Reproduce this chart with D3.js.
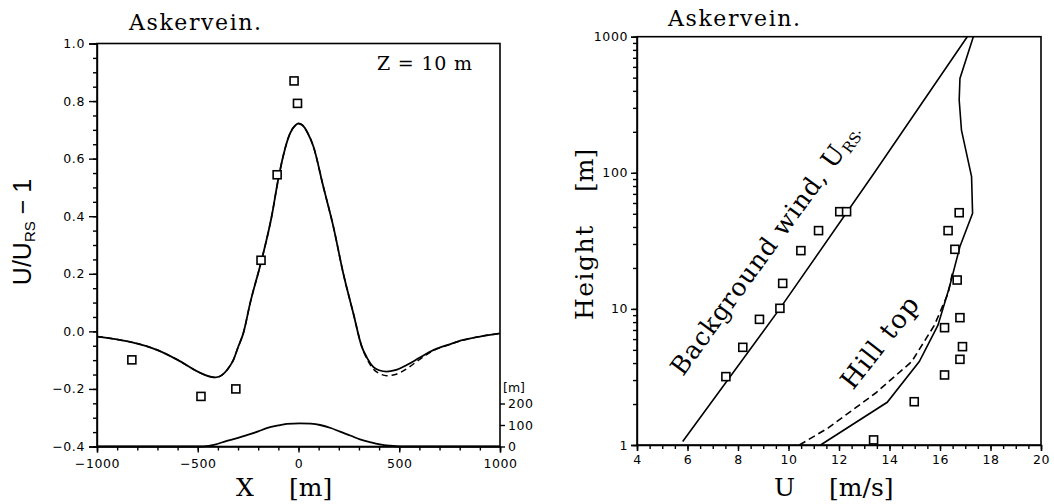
<!DOCTYPE html>
<html>
<head>
<meta charset="utf-8">
<script src="https://cdn.jsdelivr.net/npm/d3@7"></script>
<style>
  body { margin: 0; background: #fff; }
  .tick text { font-family: "DejaVu Sans", sans-serif; font-size: 12.5px; letter-spacing: 0.6px; fill: #000; }
  .tick line, .domain { stroke: #000; stroke-width: 1.4; }
  .serif { font-family: "DejaVu Serif", "Liberation Serif", serif; fill: #000; }
</style>
</head>
<body>
<svg id="chart" width="1054" height="504"></svg>
<script>
// ---- left panel: speed-up U/Urs - 1 at Z = 10 m along the line through the hill top
var profileX = [-1000, -900, -820, -700, -600, -500, -440, -410, -380, -350, -323, -300, -274, -240, -183, -133, -100, -75, -42, -15, 0, 20, 45, 74, 123, 173, 222, 272, 314, 340, 371, 400, 438, 480, 537, 600, 669, 750, 818, 900, 1000];
var profileSolid = [-0.018, -0.028, -0.039, -0.065, -0.099, -0.140, -0.157, -0.160, -0.152, -0.130, -0.099, -0.055, -0.007, 0.098, 0.248, 0.400, 0.530, 0.612, 0.688, 0.716, 0.722, 0.716, 0.690, 0.642, 0.503, 0.364, 0.202, 0.063, -0.053, -0.092, -0.123, -0.135, -0.140, -0.135, -0.117, -0.092, -0.065, -0.045, -0.030, -0.018, -0.007];
var profileDashed = [-0.018, -0.028, -0.039, -0.065, -0.099, -0.140, -0.157, -0.160, -0.152, -0.130, -0.099, -0.055, -0.007, 0.098, 0.248, 0.400, 0.530, 0.612, 0.688, 0.716, 0.722, 0.716, 0.690, 0.642, 0.503, 0.364, 0.202, 0.063, -0.053, -0.096, -0.131, -0.146, -0.154, -0.150, -0.130, -0.098, -0.067, -0.046, -0.030, -0.018, -0.007];
var obsX = [-827, -484, -311, -186, -106, -22, -5];
var obsSpeedup = [-0.099, -0.226, -0.200, 0.247, 0.544, 0.870, 0.792];
// hill height [m] (right-hand axis)
var hillX = [-1000, -600, -500, -472, -420, -356, -300, -257, -200, -158, -100, -59, 7, 60, 107, 160, 206, 260, 305, 360, 404, 450, 504, 600, 1000];
var hillH = [0, 0, 0, 1, 8, 26, 40, 53, 70, 85, 98, 105, 108, 106, 100, 86, 69, 50, 33, 19, 10, 4, 0, 0, 0];

var xTicksLeft = [-1000, -500, 0, 500, 1000];
var yTicksLeft = [-0.4, -0.2, 0.0, 0.2, 0.4, 0.6, 0.8, 1.0];
var hTicks = [0, 100, 200];

// ---- right panel: wind profiles
var bgZ = [1.06, 10, 100, 1000];
var bgU = [5.81, 9.65, 13.4, 17.08];
var topZ = [1, 2.06, 4.1, 7.6, 14.6, 28.7, 50.4, 93.7, 139, 206, 343, 494, 1000];
var topU = [11.27, 13.91, 15.18, 15.92, 16.38, 16.79, 17.29, 17.25, 17.05, 16.85, 16.76, 16.79, 17.32];
var topDashZ = [1, 1.33, 2.4, 4.1, 7.6, 13, 18.3];
var topDashU = [10.43, 11.56, 13.44, 14.88, 15.78, 16.32, 16.49];
var obsBgU = [7.52, 8.19, 8.85, 9.66, 9.77, 10.49, 11.19, 12.03, 12.30];
var obsBgZ = [3.18, 5.22, 8.38, 10.1, 15.4, 26.8, 37.6, 51.8, 51.8];
var obsTopU = [13.37, 14.98, 16.18, 16.79, 16.89, 16.18, 16.79, 16.68, 16.59, 16.32, 16.76];
var obsTopZ = [1.09, 2.08, 3.27, 4.26, 5.28, 7.28, 8.62, 16.3, 27.4, 37.6, 50.9];

var xTicksRight = [4, 6, 8, 10, 12, 14, 16, 18, 20];
var yTicksRight = [1, 10, 100, 1000];

var svg = d3.select("#chart");

function zip(a, b) { return a.map(function(d, i) { return [d, b[i]]; }); }

function squares(g, pts, x, y) {
  g.append("g").selectAll("rect")
    .data(pts)
    .enter().append("rect")
      .attr("x", function(d) { return x(d[0]) - 4; })
      .attr("y", function(d) { return y(d[1]) - 4; })
      .attr("width", 8)
      .attr("height", 8)
      .attr("fill", "#fff")
      .attr("stroke", "#000")
      .attr("stroke-width", 1.6);
}

// ================= left panel =================
var x1 = d3.scaleLinear().domain([-1000, 1000]).range([97, 500]);
var y1 = d3.scaleLinear().domain([-0.4, 1.0]).range([446.5, 43.5]);
var h1 = d3.scaleLinear().domain([0, 200]).range([446.5, 403.5]);

var left = svg.append("g");

// minor ticks
left.append("g")
    .attr("transform", "translate(0,446.5)")
    .call(d3.axisBottom(x1).tickValues(d3.range(-1000, 1001, 100)).tickSize(4).tickFormat(""))
    .call(function(g) { g.select(".domain").remove(); });
left.append("g")
    .attr("transform", "translate(97,0)")
    .call(d3.axisLeft(y1).tickValues(d3.range(-8, 21).map(function(i) { return i * 0.05; })).tickSize(4).tickFormat(""))
    .call(function(g) { g.select(".domain").remove(); });

left.append("g")
    .attr("transform", "translate(0,446.5)")
    .call(d3.axisBottom(x1).tickValues(xTicksLeft).tickSize(6).tickPadding(7).tickFormat(d3.format("d")));
left.append("g")
    .attr("transform", "translate(97,0)")
    .call(d3.axisLeft(y1).tickValues(yTicksLeft).tickSize(8).tickPadding(4).tickFormat(d3.format(".1f")));
left.append("g")
    .attr("transform", "translate(500,0)")
    .call(d3.axisRight(h1).tickValues(hTicks).tickSize(5).tickPadding(3).tickFormat(d3.format("d")))
    .call(function(g) { g.select(".domain").remove(); });

left.append("rect")
    .attr("x", 97).attr("y", 43.5)
    .attr("width", 403).attr("height", 403)
    .attr("fill", "none").attr("stroke", "#000").attr("stroke-width", 1.6);

var line1 = d3.line().x(function(d) { return x1(d[0]); }).y(function(d) { return y1(d[1]); }).curve(d3.curveMonotoneX);
var hillLine = d3.line().x(function(d) { return x1(d[0]); }).y(function(d) { return h1(d[1]); }).curve(d3.curveMonotoneX);

left.append("path")
    .attr("d", line1(zip(profileX, profileDashed)))
    .attr("fill", "none").attr("stroke", "#000").attr("stroke-width", 1.5)
    .attr("stroke-dasharray", "6,4");
left.append("path")
    .attr("d", line1(zip(profileX, profileSolid)))
    .attr("fill", "none").attr("stroke", "#000").attr("stroke-width", 1.8);
left.append("path")
    .attr("d", hillLine(zip(hillX, hillH)))
    .attr("fill", "none").attr("stroke", "#000").attr("stroke-width", 1.8);

squares(left, zip(obsX, obsSpeedup), x1, y1);

left.append("text").attr("class", "serif").attr("x", 129).attr("y", 30)
    .style("font-size", "22px").style("letter-spacing", "1.6px").text("Askervein.");
left.append("text").attr("class", "serif").attr("x", 377).attr("y", 70)
    .style("font-size", "19px").style("letter-spacing", "0.8px").text("Z = 10 m");
left.append("text").attr("x", 503).attr("y", 392)
    .style("font-family", "DejaVu Sans, sans-serif").style("font-size", "12.5px").text("[m]");

var xl = left.append("text").attr("class", "serif").attr("y", 496).style("font-size", "25px");
xl.append("tspan").attr("x", 236).text("X");
xl.append("tspan").attr("x", 289).text("[m]");

var yl = left.append("text")
    .attr("transform", "translate(31,232) rotate(-90)")
    .attr("text-anchor", "middle")
    .style("font-family", "Liberation Sans, Arial, sans-serif")
    .style("font-size", "25px");
yl.append("tspan").text("U/U");
yl.append("tspan").attr("dy", 4).style("font-size", "15px").text("RS");
yl.append("tspan").attr("dy", -4).text(" \u2212 1");

// ================= right panel =================
var x2 = d3.scaleLinear().domain([4, 20]).range([637, 1041]);
var y2 = d3.scaleLog().domain([1, 1000]).range([445, 36.7]);

var right = svg.append("g");

right.append("g")
    .attr("transform", "translate(0,445)")
    .call(d3.axisBottom(x2).tickValues(d3.range(4, 20.01, 0.5)).tickSize(4).tickFormat(""))
    .call(function(g) { g.select(".domain").remove(); });
right.append("g")
    .attr("transform", "translate(637,0)")
    .call(d3.axisLeft(y2).tickValues(y2.ticks()).tickSize(4).tickFormat(""))
    .call(function(g) { g.select(".domain").remove(); });

right.append("g")
    .attr("transform", "translate(0,445)")
    .call(d3.axisBottom(x2).tickValues(xTicksRight).tickSize(6).tickPadding(4).tickFormat(d3.format("d")));
right.append("g")
    .attr("transform", "translate(637,0)")
    .call(d3.axisLeft(y2).tickValues(yTicksRight).tickSize(6).tickPadding(3).tickFormat(d3.format("d")));

right.append("rect")
    .attr("x", 637).attr("y", 36.7)
    .attr("width", 404).attr("height", 408.3)
    .attr("fill", "none").attr("stroke", "#000").attr("stroke-width", 1.6);

var line2 = d3.line().x(function(d) { return x2(d[0]); }).y(function(d) { return y2(d[1]); });

right.append("path")
    .attr("d", line2(zip(bgU, bgZ)))
    .attr("fill", "none").attr("stroke", "#000").attr("stroke-width", 1.6);
right.append("path")
    .attr("d", line2(zip(topU, topZ)))
    .attr("fill", "none").attr("stroke", "#000").attr("stroke-width", 1.6);
right.append("path")
    .attr("d", line2(zip(topDashU, topDashZ)))
    .attr("fill", "none").attr("stroke", "#000").attr("stroke-width", 1.6)
    .attr("stroke-dasharray", "7,4");

squares(right, zip(obsBgU, obsBgZ), x2, y2);
squares(right, zip(obsTopU, obsTopZ), x2, y2);

right.append("text").attr("class", "serif").attr("x", 668).attr("y", 26)
    .style("font-size", "22px").style("letter-spacing", "1.6px").text("Askervein.");

var ul = right.append("text").attr("class", "serif").attr("y", 496).style("font-size", "25px");
ul.append("tspan").attr("x", 774).text("U");
ul.append("tspan").attr("x", 829).text("[m/s]");

var hl = right.append("text").attr("class", "serif")
    .attr("transform", "translate(593,320) rotate(-90)")
    .style("font-size", "25px");
hl.append("tspan").style("letter-spacing", "1.5px").text("Height");
hl.append("tspan").attr("x", 128).text("[m]");

var bg = right.append("text").attr("class", "serif")
    .attr("transform", "translate(683,377) rotate(-54)")
    .style("font-size", "25px");
bg.append("tspan").style("letter-spacing", "1px").text("Background wind, U");
bg.append("tspan").attr("dy", 4).style("font-size", "15px").text("RS");
bg.append("tspan").attr("dy", -4).style("font-size", "15px").text(".");

right.append("text").attr("class", "serif")
    .attr("transform", "translate(853,391) rotate(-52)")
    .style("font-size", "26px").style("letter-spacing", "1.5px").text("Hill top");
</script>
</body>
</html>
